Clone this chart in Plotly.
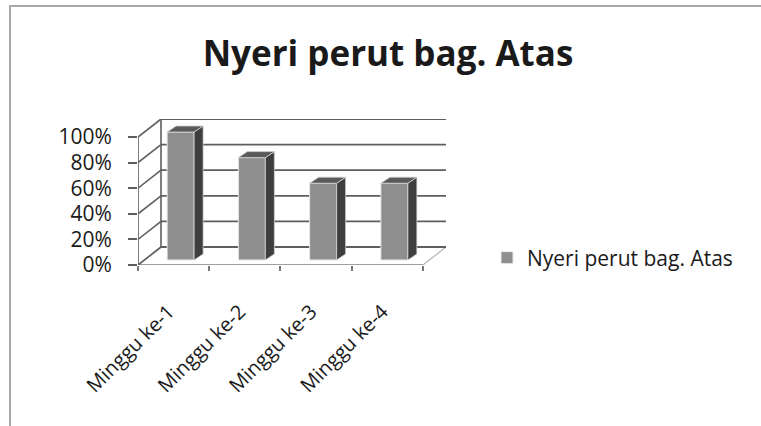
import plotly.graph_objects as go

categories = ["Minggu ke-1", "Minggu ke-2", "Minggu ke-3", "Minggu ke-4"]
values = [1.0, 0.8, 0.6, 0.6]
series_name = "Nyeri perut bag. Atas"
title_text = "Nyeri perut bag. Atas"
y_tickvals = [0, 0.2, 0.4, 0.6, 0.8, 1.0]
y_ticktext = ["0%", "20%", "40%", "60%", "80%", "100%"]

# pseudo-3D geometry (data units)
WALL_DX, WALL_DY = 0.323, 0.1406
BAR_OFF, BAR_W, BAR_BASE = -0.091, 0.379, 0.039
BAR_DX, BAR_DY = 0.126, 0.047
LABEL_SHIFT = 0.07

n = len(categories)
xmin, xmax = -0.5, n - 0.5
centers = list(range(n))
bounds = [i - 0.5 for i in range(n + 1)]

FONT = "Open Sans"
GRID = "#5e5e5e"
TXT = "#1a1a1a"

shapes = []
# floor
shapes.append(dict(type="path", xref="x", yref="y", layer="below",
                   path=f"M{xmin},0 L{xmax},0 L{xmax+WALL_DX},{WALL_DY} L{xmin+WALL_DX},{WALL_DY} Z",
                   fillcolor="white", line=dict(color="#b5b5b5", width=1.2)))
shapes.append(dict(type="line", xref="x", yref="y", layer="below",
                   x0=xmin, y0=0, x1=xmax, y1=0, line=dict(color="#8a8a8a", width=1.5)))
# left wall verticals
shapes.append(dict(type="line", xref="x", yref="y", layer="below",
                   x0=xmin, y0=0, x1=xmin, y1=max(y_tickvals), line=dict(color=GRID, width=1.6)))
shapes.append(dict(type="line", xref="x", yref="y", layer="below",
                   x0=xmin + WALL_DX, y0=WALL_DY, x1=xmin + WALL_DX, y1=max(y_tickvals) + WALL_DY,
                   line=dict(color=GRID, width=1.6)))
# gridlines on back wall and left wall
for v in y_tickvals:
    shapes.append(dict(type="line", xref="x", yref="y", layer="below",
                       x0=xmin + WALL_DX, y0=v + WALL_DY, x1=xmax + WALL_DX, y1=v + WALL_DY,
                       line=dict(color=GRID, width=1.8)))
    shapes.append(dict(type="line", xref="x", yref="y", layer="below",
                       x0=xmin, y0=v, x1=xmin + WALL_DX, y1=v + WALL_DY,
                       line=dict(color=GRID, width=1.6)))

# bar side and top faces
for i, v in enumerate(values):
    xl = i + BAR_OFF
    xr = xl + BAR_W
    b = BAR_BASE
    t = BAR_BASE + v
    shapes.append(dict(type="path", xref="x", yref="y", layer="above",
                       path=f"M{xr},{b} L{xr},{t} L{xr+BAR_DX},{t+BAR_DY} L{xr+BAR_DX},{b+BAR_DY} Z",
                       fillcolor="#3e3e3e", line=dict(color="#d0d0d0", width=0.8)))
    shapes.append(dict(type="path", xref="x", yref="y", layer="above",
                       path=f"M{xl},{t} L{xr},{t} L{xr+BAR_DX},{t+BAR_DY} L{xl+BAR_DX},{t+BAR_DY} Z",
                       fillcolor="#5a5a5a", line=dict(color="#d0d0d0", width=0.8)))

# outer frame
shapes.append(dict(type="rect", xref="paper", yref="paper", layer="below",
                   x0=-0.4156, x1=2.2, y0=-2.0, y1=1.774,
                   line=dict(color="#a8a8a8", width=2), fillcolor="rgba(0,0,0,0)"))

fig = go.Figure()
fig.add_trace(go.Bar(
    x=centers, y=values, base=BAR_BASE, offset=BAR_OFF, width=BAR_W,
    name=series_name, marker=dict(color="#8e8e8e", line=dict(color="#e8e8e8", width=1)),
    showlegend=True,
))
# invisible trace to carry category labels on overlaying axis
fig.add_trace(go.Scatter(x=centers, y=[None] * n, xaxis="x2", yaxis="y",
                         showlegend=False, hoverinfo="skip", mode="markers"))

fig.update_layout(
    width=761, height=426, autosize=False,
    margin=dict(l=138, r=315, t=119, b=161, pad=0),
    paper_bgcolor="white", plot_bgcolor="rgba(0,0,0,0)",
    title=dict(text=f"<b>{title_text}</b>", x=388 / 761, xref="container", xanchor="center",
               y=1 - 54 / 426, yanchor="middle", yref="container",
               font=dict(family=FONT, size=35, color=TXT)),
    xaxis=dict(range=[xmin, xmax + WALL_DX], tickvals=bounds, ticktext=[""] * len(bounds),
               ticks="outside", ticklen=5, tickcolor="#777", tickwidth=1.5,
               showgrid=False, zeroline=False, showline=False),
    xaxis2=dict(range=[xmin, xmax + WALL_DX], overlaying="x", anchor="y", side="bottom",
                tickvals=[c - LABEL_SHIFT for c in centers], ticktext=categories, tickangle=-45,
                ticks="", ticklabelstandoff=30,
                tickfont=dict(family=FONT, size=20, color=TXT),
                showgrid=False, zeroline=False, showline=False),
    yaxis=dict(range=[0, max(y_tickvals) + WALL_DY], tickvals=y_tickvals, ticktext=y_ticktext,
               ticks="outside", ticklen=9, tickcolor=GRID, tickwidth=1.6,
               ticklabelstandoff=12,
               tickfont=dict(family=FONT, size=21, color=TXT),
               showgrid=False, zeroline=False, showline=False),
    shapes=shapes,
    legend=dict(x=(487 - 138) / 308, y=(265 - 258) / 146, xanchor="left", yanchor="middle",
                font=dict(family=FONT, size=21, color=TXT), bgcolor="rgba(0,0,0,0)",
                itemwidth=30),
    showlegend=True,
)

fig.write_html("out.html")
